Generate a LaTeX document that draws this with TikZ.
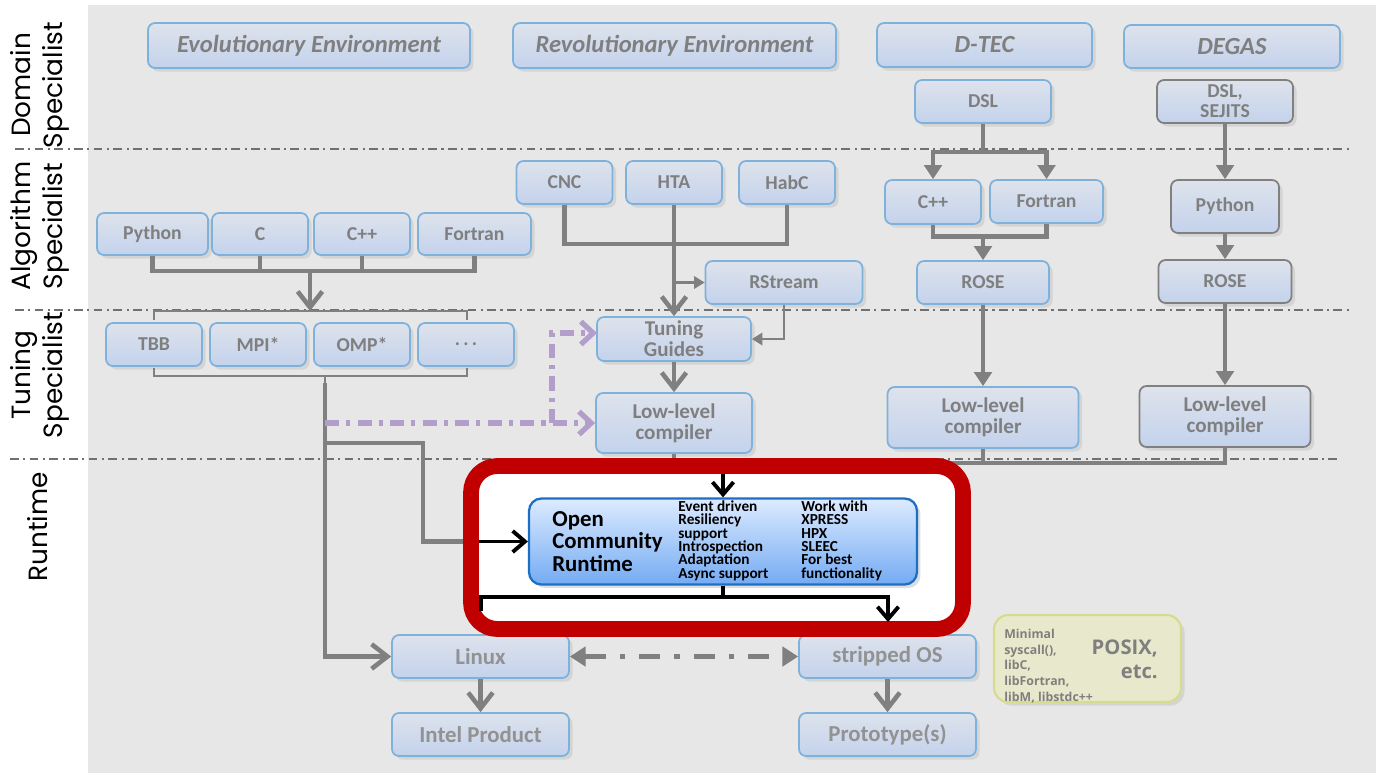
\documentclass[tikz,border=0pt]{standalone}
\usepackage{fontspec}
\setmainfont{Carlito}
\newfontfamily\sidefont{Poppins}
\newfontfamily\posixfont{Open Sans}
\usetikzlibrary{arrows.meta, shadows}
\definecolor{bggray}{HTML}{E7E7E7}
\definecolor{boxtopc}{HTML}{DEE3EC}
\definecolor{boxbotc}{HTML}{C3D2EC}
\definecolor{boxlinec}{HTML}{7FB2DB}
\definecolor{txtgray}{HTML}{7F7F7F}
\definecolor{linegray}{HTML}{808080}
\definecolor{sepgray}{HTML}{707070}
\definecolor{tunepurple}{HTML}{B39DCB}
\definecolor{ocrtopc}{HTML}{DDEBFF}
\definecolor{ocrbotc}{HTML}{74ABF3}
\definecolor{ocrlinec}{HTML}{1D6FC6}
\definecolor{ocrredc}{HTML}{C00000}
\definecolor{posixfillc}{HTML}{E8E8CC}
\definecolor{posixlinec}{HTML}{D5DC8E}
\tikzset{
		box/.style={draw=boxlinec, line width=1pt, rounded corners=4pt,
			top color=boxtopc, bottom color=boxbotc, text=txtgray,
			font=\fontsize{11.2}{12}\selectfont\bfseries, align=center, inner sep=0pt,
			drop shadow={opacity=0.18, shadow xshift=2pt, shadow yshift=-2pt}},
		greybox/.style={box, draw=linegray},
		head/.style={box, font=\fontsize{14}{15}\selectfont\bfseries\itshape},
		twoline/.style={font=\fontsize{12}{12}\selectfont\bfseries},
		rbox/.style={box, text=txtgray!85, font=\fontsize{13}{14}\selectfont\bfseries},
		side/.style={font=\sidefont\fontsize{15}{18.5}\selectfont, rotate=90, align=center},
		sep/.style={draw=sepgray, line width=0.8pt, dash pattern=on 5pt off 2.5pt on 1.2pt off 2.5pt},
		brace line/.style={draw=linegray, line width=0.8pt},
		gline/.style={draw=linegray, line width=2.6pt},
		gbarb/.style={gline, -{Straight Barb[length=9pt,width=14pt]}},
		gtri/.style={gline, -{Triangle[length=8pt,width=10pt]}},
		thin tri/.style={draw=linegray, line width=1.4pt, -{Triangle[length=6pt,width=7pt]}},
		gdash/.style={gline, dash pattern=on 12pt off 8pt on 3pt off 8pt,
			{Triangle[length=9pt,width=11pt]}-{Triangle[length=9pt,width=11pt]}},
		pline/.style={draw=tunepurple, line width=3pt, dash pattern=on 8pt off 4pt on 2.5pt off 4pt,
			-{Straight Barb[length=7pt,width=13pt]}},
		bline/.style={draw=black, line width=2.2pt},
		barrow/.style={bline, -{Straight Barb[length=7pt,width=12pt]}},
		ocrsmall/.style={font=\fontsize{8.7}{7.6}\selectfont\bfseries, align=left, inner sep=0pt},
	}

\begin{document}
\begin{tikzpicture}[x=0.02cm, y=-0.02cm]
	\useasboundingbox (0,0) rectangle (1381,775);
	\fill[white] (0,0) rectangle (1381,775);
	\fill[bggray] (88,5) rectangle (1376,773);

	% rows
	\draw[sep] (15,149) -- (1351,149);
	\draw[sep] (15,310) -- (1351,310);
	\draw[sep] (10,459) -- (1341,459);

	\node[side] (domlab) at (40,85)  {Domain\\Specialist};
	\node[side] (alglab) at (40,226) {Algorithm\\Specialist};
	\node[side] (tunlab) at (40,375) {Tuning\\Specialist};
	\node[side] (runlab) at (38,527) {Runtime};

	% domain specialist
	\node[head, minimum width=6.44cm, minimum height=0.9cm]  (evo)   at (309,45.5)  {Evolutionary Environment};
	\node[head, minimum width=6.46cm, minimum height=0.9cm]  (revo)  at (674.5,45.5) {Revolutionary Environment};
	\node[head, minimum width=4.3cm,  minimum height=0.88cm] (dtec)  at (984.5,45)  {D-TEC};
	\node[head, minimum width=4.32cm, minimum height=0.86cm] (degas) at (1232,46.5) {DEGAS};
	\node[box, minimum width=2.72cm, minimum height=0.86cm]  (dsl)   at (983,101.5) {DSL};
	\node[greybox, font=\fontsize{11.2}{11.3}\selectfont\bfseries, minimum width=2.72cm, minimum height=0.86cm] (sejits) at (1225,101.5) {DSL,\\SEJITS};

	% algorithm specialist
	\node[box, minimum width=2.22cm, minimum height=0.84cm] (py)    at (152.5,234) {Python};
	\node[box, minimum width=1.92cm, minimum height=0.84cm] (c)     at (260,234)   {C};
	\node[box, minimum width=1.92cm, minimum height=0.84cm] (cpp)   at (362,234)   {C++};
	\node[box, minimum width=2.26cm, minimum height=0.84cm] (fort)  at (474.5,234) {Fortran};
	\node[box, minimum width=1.92cm, minimum height=0.86cm] (cnc)   at (564.5,182.5) {CNC};
	\node[box, minimum width=1.92cm, minimum height=0.86cm] (hta)   at (674,182.5)   {HTA};
	\node[box, minimum width=1.92cm, minimum height=0.86cm] (habc)  at (787,182.5)   {HabC};
	\node[box, minimum width=3.14cm, minimum height=0.86cm] (rstream) at (784,282.5) {RStream};
	\node[box, minimum width=1.92cm, minimum height=0.88cm] (dcpp)  at (933,202)    {C++};
	\node[box, minimum width=2.26cm, minimum height=0.86cm] (dfort) at (1046.5,201.5) {Fortran};
	\node[box, minimum width=2.64cm, minimum height=0.86cm] (rose)  at (983,282.5)  {ROSE};
	\node[greybox, minimum width=2.16cm, minimum height=1.06cm] (gpy)   at (1225,206.5) {Python};
	\node[greybox, minimum width=2.66cm, minimum height=0.86cm] (grose) at (1225,281.5) {ROSE};

	% tuning specialist
	\node[box, minimum width=1.92cm, minimum height=0.86cm] (tbb) at (154,344.5) {TBB};
	\node[box, minimum width=1.92cm, minimum height=0.86cm] (mpi) at (258,344.5) {MPI*};
	\node[box, minimum width=1.92cm, minimum height=0.86cm] (omp) at (362,344.5) {OMP*};
	\node[box, minimum width=1.92cm, minimum height=0.86cm] (etc) at (466,344.5) {.\,.\,.};
	\node[box, twoline, minimum width=3.08cm, minimum height=0.88cm] (tg)  at (674,339)    {Tuning\\Guides};
	\node[box, twoline, minimum width=3.12cm, minimum height=1.2cm]  (ll)  at (674,423)    {Low-level\\compiler};
	\node[box, twoline, minimum width=3.82cm, minimum height=1.22cm] (dll) at (983,417.5)  {Low-level\\compiler};
	\node[greybox, twoline, minimum width=3.42cm, minimum height=1.22cm] (gll) at (1225,416.5) {Low-level\\compiler};

	% runtime
	\node[rbox, minimum width=3.54cm, minimum height=0.86cm] (linux) at (480.5,656.5) {Linux};
	\node[rbox, minimum width=3.54cm, minimum height=0.86cm] (sos)   at (887.5,656.5) {stripped OS};
	\node[rbox, minimum width=3.54cm, minimum height=0.86cm] (intel) at (480.5,734.5) {Intel Product};
	\node[rbox, minimum width=3.54cm, minimum height=0.86cm] (proto) at (887.5,734.5) {Prototype(s)};
	\node[draw=posixlinec, line width=1.2pt, fill=posixfillc, rounded corners=8pt,
		minimum width=3.74cm, minimum height=1.74cm,
		drop shadow={opacity=0.18, shadow xshift=2pt, shadow yshift=-2pt}] (posix) at (1087.5,658.5) {};
	\node[anchor=west, text=txtgray, font=\posixfont\fontsize{7}{9}\selectfont\bfseries, align=left, inner sep=0pt]
		(posixlibs) at (1004,666) {Minimal\\syscall(),\\libC,\\libFortran,\\libM, libstdc++};
	\node[anchor=east, text=txtgray, font=\posixfont\fontsize{11.5}{13.6}\selectfont\bfseries, align=right, inner sep=0pt]
		(posixname) at (1158,659) {POSIX,\\etc.};

	% brackets round the tuning libraries
	\draw[brace line] (154,320) -- (154,311) -- (467,311) -- (467,320);
	\draw[brace line] (154,368) -- (154,376) -- (467,376) -- (467,368);
	\draw[brace line] (325,376) -- (325,383);

	\coordinate (bus1)   at (310,271);
	\coordinate (brtop)  at (310,311);
	\coordinate (brbot)  at (325,383);
	\coordinate (split)  at (325,443);
	\coordinate (turn)   at (423,541.5);
	\coordinate (ocrin)  at (479,541.5);
	\coordinate (pstart) at (325,423);
	\coordinate (pturn)  at (552,423);
	\coordinate (ptg)    at (597,333);
	\coordinate (cncbus) at (674,244);
	\coordinate (rsbr)   at (674,282.5);
	\coordinate (dslsplit) at (983,152);
	\coordinate (dmerge) at (983,236.5);
	\coordinate (lljoin) at (674,463);
	\coordinate (ocrtop) at (723,474);
	\coordinate (ocrbus) at (723,597);
	\coordinate (sosin)  at (888,622);
	\coordinate (linin)  at (481,611);

	% gray flow
	\draw[gline] (py.south) |- (bus1) -| (fort.south);
	\draw[gline] (c.south) -- (c.south |- bus1);
	\draw[gline] (cpp.south) -- (cpp.south |- bus1);
	\draw[gbarb] (bus1) -- (brtop);
	\draw[gbarb] (brbot) |- (linux.west);
	\draw[gline] (split) -| (turn) -- (ocrin);

	\draw[gline] (cnc.south) |- (cncbus) -| (habc.south);
	\draw[gbarb] (hta.south) -- (tg.north);
	\draw[thin tri] (rsbr) -- (rstream.west);
	\draw[thin tri] (rstream.south) |- (tg.east);
	\draw[gbarb] (tg) -- (ll);

	\draw[gline] (dsl.south) -- (dslsplit);
	\draw[gtri] (dslsplit) -| (dcpp.north);
	\draw[gtri] (dslsplit) -| (dfort.north);
	\draw[gline] (dcpp.south) |- (dmerge) -| (dfort.south);
	\draw[gtri] (dmerge) -- (rose.north);
	\draw[gtri] (rose) -- (dll);
	\draw[gtri] (sejits) -- (gpy);
	\draw[gtri] (gpy) -- (grose);
	\draw[gtri] (grose) -- (gll);

	\draw[gline] (ll.south) -- (lljoin) -| (gll.south);
	\draw[gline] (dll.south) -- (dll.south |- lljoin);

	\draw[pline] (pstart) -- (ll.west);
	\draw[pline] (pturn) |- (ptg);

	\draw[gdash] (linux) -- (sos);
	\draw[gbarb] (linux) -- (intel);
	\draw[gbarb] (sos) -- (proto);

	% open community runtime
	\node[draw=ocrredc, line width=9pt, fill=white, rounded corners=15pt,
		minimum width=9.84cm, minimum height=3.26cm] (rt) at (717,547.5) {};
	\node[draw=ocrlinec, line width=1.3pt, rounded corners=7pt, top color=ocrtopc, bottom color=ocrbotc,
		minimum width=7.76cm, minimum height=1.72cm,
		drop shadow={opacity=0.25, shadow xshift=2pt, shadow yshift=-2pt}] (ocr) at (723,541.5) {};
	\node[anchor=west, font=\fontsize{13}{13}\selectfont\bfseries, align=left, inner sep=0pt]
		(ocrname) at (552,541.5) {Open\\Community\\Runtime};
	\node[ocrsmall, anchor=west] (ocrfeat) at (678,540.5)
		{Event driven\\Resiliency\\support\\Introspection\\Adaptation\\Async support};
	\node[ocrsmall, anchor=west] (ocrwork) at (801,540.5)
		{Work with\\XPRESS\\HPX\\SLEEC\\For best\\functionality};

	\draw[barrow] (ocrtop) -- (ocr.north);
	\draw[barrow] (ocrin) -- (ocr.west);
	\draw[bline] (ocr.south) -- (ocrbus);
	\draw[barrow] (ocrbus) -| (sosin);
	\draw[bline] (ocrbus) -| (linin);
\end{tikzpicture}
\end{document}
